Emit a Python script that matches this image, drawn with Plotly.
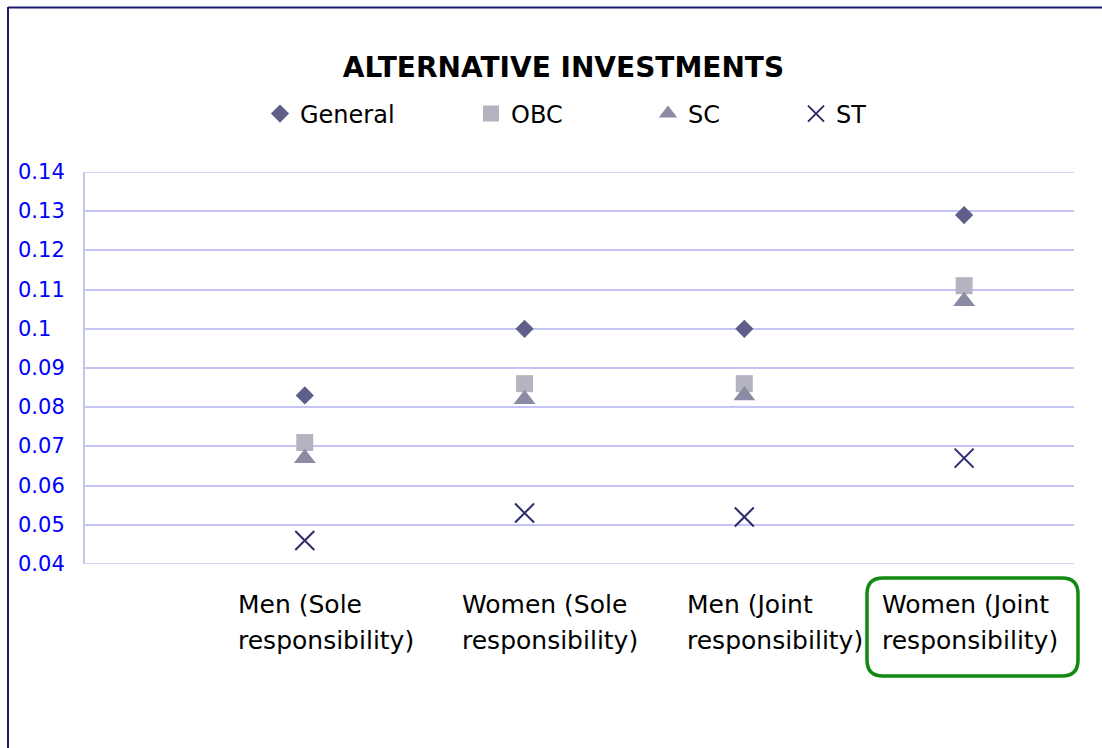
import plotly.graph_objects as go

# ---- data ----
categories = ["Men (Sole<br>responsibility)", "Women (Sole<br>responsibility)",
              "Men (Joint<br>responsibility)", "Women (Joint<br>responsibility)"]
general = [0.083, 0.100, 0.100, 0.129]
obc = [0.071, 0.086, 0.086, 0.111]
sc = [0.067, 0.082, 0.083, 0.107]
st = [0.046, 0.053, 0.052, 0.067]
y_ticks = [0.04, 0.05, 0.06, 0.07, 0.08, 0.09, 0.10, 0.11, 0.12, 0.13, 0.14]
y_tick_labels = ["0.04", "0.05", "0.06", "0.07", "0.08", "0.09", "0.1",
                 "0.11", "0.12", "0.13", "0.14"]
title_text = "ALTERNATIVE INVESTMENTS"

# ---- layout geometry (pixels) ----
W, H = 1102, 748
L, R, T, B = 85, 1074, 172, 564
PW, PH = R - L, B - T


def px(x):
    return (x - L) / PW


def py(y):
    return (B - y) / PH


FONT = "DejaVu Sans"
GRID = "#c4c4f6"
xpos = list(range(len(categories)))

fig = go.Figure()
series = [
    ("General", general, dict(symbol="diamond", size=14, color="#5e5e88"), "legend"),
    ("OBC", obc, dict(symbol="square", size=17, color="#b4b4c0"), "legend2"),
    ("SC", sc, dict(symbol="triangle-up", size=19, color="#8b8ba4"), "legend3"),
    ("ST", st, dict(symbol="x-thin", size=19, color="#2b2b6d",
                    line=dict(color="#2b2b6d", width=2)), "legend4"),
]
for name, vals, mk, lg in series:
    fig.add_trace(go.Scatter(x=xpos, y=vals, mode="markers", name=name,
                             marker=mk, legend=lg, cliponaxis=False))

legend_common = dict(orientation="h", yanchor="middle", xanchor="left",
                     font=dict(family=FONT, size=24, color="#000000"),
                     bgcolor="rgba(0,0,0,0)", borderwidth=0)
leg_x = [260, 471, 648, 796]
fig.update_layout(
    legend=dict(x=px(leg_x[0]), y=py(114), **legend_common),
    legend2=dict(x=px(leg_x[1]), y=py(114), **legend_common),
    legend3=dict(x=px(leg_x[2]), y=py(114), **legend_common),
    legend4=dict(x=px(leg_x[3]), y=py(114), **legend_common),
)

fig.update_layout(
    width=W, height=H,
    margin=dict(l=L, r=W - R, t=T, b=H - B, pad=0),
    paper_bgcolor="white", plot_bgcolor="white",
    showlegend=True,
    title=dict(text=title_text, x=563.5 / W, xref="container", xanchor="center",
               y=1 - 67 / H, yref="container", yanchor="middle",
               font=dict(family=FONT, size=28, color="#000000", weight="bold")),
    xaxis=dict(range=[-1, 3.5], showgrid=False, zeroline=False, showticklabels=False,
               ticks="", showline=False, fixedrange=True),
    yaxis=dict(range=[0.04, 0.14], tickvals=y_ticks, showticklabels=False,
               showgrid=True, gridcolor=GRID, gridwidth=1.5, zeroline=False,
               showline=True, linecolor=GRID, linewidth=1.5, ticks="",
               fixedrange=True),
)

# edge gridlines (top and bottom of the value range)
for v in (y_ticks[0], y_ticks[-1]):
    fig.add_shape(type="line", xref="paper", yref="y", x0=0, x1=1, y0=v, y1=v,
                  line=dict(color=GRID, width=1.5), layer="below")

# y tick labels, left aligned like the original
for v, t in zip(y_ticks, y_tick_labels):
    fig.add_annotation(x=px(16), xref="paper", y=v, yref="y", text=t,
                       showarrow=False, xanchor="left", yanchor="middle",
                       font=dict(family=FONT, size=21, color="#0000ff"))

# category labels (two lines each)
label_left = [238, 462, 687, 882]
line_y = [604, 640]
for lx, cat in zip(label_left, categories):
    for ly, part in zip(line_y, cat.split("<br>")):
        fig.add_annotation(x=px(lx - 2), xref="paper", y=py(ly), yref="paper", text=part,
                           showarrow=False, xanchor="left", yanchor="middle", align="left",
                           font=dict(family=FONT, size=25, color="#000000"))

# green rounded highlight box
bx0, bx1, by0, by1, r = 867, 1078, 578, 676, 16
pts = [
    ("M", [(bx0 + r, by0)]),
    ("L", [(bx1 - r, by0)]),
    ("Q", [(bx1, by0), (bx1, by0 + r)]),
    ("L", [(bx1, by1 - r)]),
    ("Q", [(bx1, by1), (bx1 - r, by1)]),
    ("L", [(bx0 + r, by1)]),
    ("Q", [(bx0, by1), (bx0, by1 - r)]),
    ("L", [(bx0, by0 + r)]),
    ("Q", [(bx0, by0), (bx0 + r, by0)]),
]
path = ""
for cmd, ps in pts:
    path += cmd + " " + " ".join(f"{px(a):.5f},{py(b):.5f}" for a, b in ps) + " "
path += "Z"
fig.add_shape(type="path", path=path, xref="paper", yref="paper",
              line=dict(color="#128a12", width=3.5), fillcolor="rgba(0,0,0,0)")

# outer chart frame (left and top edges visible)
fig.add_shape(type="line", xref="paper", yref="paper", x0=px(8), x1=px(8),
              y0=py(7), y1=py(760), line=dict(color="#1a1a70", width=2))
fig.add_shape(type="line", xref="paper", yref="paper", x0=px(8), x1=px(1110),
              y0=py(7.5), y1=py(7.5), line=dict(color="#1a1a70", width=2))

fig.write_html("out.html")
